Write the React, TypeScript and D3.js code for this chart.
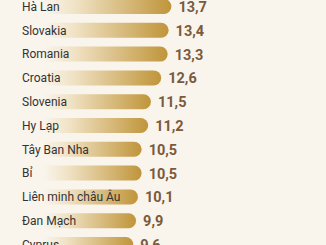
import React from "react";
import * as d3 from "d3";

const categories = [
  "Hà Lan",
  "Slovakia",
  "Romania",
  "Croatia",
  "Slovenia",
  "Hy Lạp",
  "Tây Ban Nha",
  "Bỉ",
  "Liên minh châu Âu",
  "Đan Mạch",
  "Cyprus",
];
const values = [13.7, 13.4, 13.3, 12.6, 11.5, 11.2, 10.5, 10.5, 10.1, 9.9, 9.6];
const valueLabels = ["13,7", "13,4", "13,3", "12,6", "11,5", "11,2", "10,5", "10,5", "10,1", "9,9", "9,6"];

const W = 326;
const H = 245;
const BG = "#f9f4ec";
const GOLD = "#c0953a";

export default function App() {
  const step = 23.8;
  const padInner = 0.37;
  const r0 = -1 - step * (padInner / 2);
  const y = d3
    .scaleBand<string>()
    .domain(categories)
    .range([r0, r0 + step * categories.length])
    .paddingInner(padInner)
    .paddingOuter(padInner / 2);
  const x = d3.scaleLinear().domain([0, 14]).range([44, 44 + 14 * 9.3]);
  const bh = y.bandwidth();

  return (
    <svg
      width={W}
      height={H}
      style={{ position: "absolute", left: 0, top: 0, background: BG }}
    >
      <defs>
        <linearGradient id="barGrad" x1="0" x2="1" y1="0" y2="0">
          <stop offset="0%" stopColor={BG} stopOpacity={1} />
          <stop offset="25%" stopColor="#f0e2c4" />
          <stop offset="100%" stopColor={GOLD} />
        </linearGradient>
      </defs>
      <rect x={0} y={0} width={W} height={H} fill={BG} />
      {categories.map((c, i) => {
        const top = y(c)!;
        const x0 = x(0);
        const x1 = x(values[i]);
        const r = bh / 2;
        const path = `M${x0},${top} H${x1 - r} A${r},${r} 0 0 1 ${x1 - r},${top + bh} H${x0} Z`;
        return (
          <g key={c}>
            <path d={path} fill="url(#barGrad)" />
            <text
              x={22}
              y={top + bh / 2}
              dy="0.36em"
              fontFamily="Roboto, 'Noto Sans', sans-serif"
              fontSize={12}
              fill="#333333"
            >
              {c}
            </text>
            <text
              x={x1 + 7}
              y={top + bh / 2}
              dy="0.38em"
              fontFamily="Roboto, 'Noto Sans', sans-serif"
              fontSize={14.5}
              fontWeight={700}
              fill="#7a5a3c"
            >
              {valueLabels[i]}
            </text>
          </g>
        );
      })}
    </svg>
  );
}
